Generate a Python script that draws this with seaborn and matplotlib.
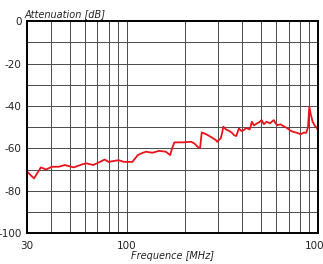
import numpy as np
import pandas as pd
import seaborn as sns
import matplotlib.pyplot as plt
from matplotlib.ticker import FixedLocator, NullFormatter

# Attenuation curve
freq_mhz = [30, 32.6, 35.4, 37.7, 40.4, 43.8, 47.3, 52.6, 58.6, 61.3, 66.5,
            72.1, 76.4, 80, 90.3, 96.3, 98.4, 106.6, 113.8, 120.9, 125.9,
            135.6, 147, 159.4, 168.2, 172, 176.9, 195.7, 216.3, 225, 236,
            240.9, 246, 258.6, 274.5, 291.5, 296, 309, 314, 319, 330, 341,
            352, 363, 373, 385, 396, 408, 420, 438, 444, 450, 462, 477, 490,
            506, 520, 537, 560, 586, 597, 609, 635, 666, 690, 716, 745, 776,
            810, 840, 866, 885, 899, 915, 936, 960, 980, 1000]
atten_db = [-71, -74.2, -69, -70, -68.7, -68.7, -67.9, -69, -67.5, -67.1,
            -67.9, -66.4, -65.3, -66.4, -65.6, -66.4, -66.4, -66.4, -63.2,
            -62.1, -61.6, -62.1, -61.2, -61.6, -63.2, -60, -57.2, -57.2,
            -56.9, -57.7, -59.6, -60, -52.5, -53.3, -54.6, -56.1, -56.9,
            -55.3, -53, -49.8, -51.2, -51.7, -52.5, -53.8, -54.2, -50.6,
            -51.8, -51.4, -50.4, -51.1, -49.5, -47.5, -49.2, -48.3, -47.8,
            -46.7, -48.6, -47.5, -48.2, -46.7, -48, -49.1, -48.7, -49.8,
            -50.5, -51.7, -52.3, -52.7, -53.4, -52.6, -52.7, -50, -40.4,
            -44, -47.5, -49.3, -50.1, -51.5]

y_ticks = [0, -20, -40, -60, -80, -100]
x_ticks = [30, 100, 1000]
x_grid = [40, 50, 60, 70, 80, 90, 200, 300, 400, 500, 600, 700, 800, 900]

df = pd.DataFrame({"freq": freq_mhz, "atten": atten_db})

sns.set_style("white")
plt.rcParams['font.family'] = ['Liberation Sans Narrow', 'DejaVu Sans']

fig = plt.figure(figsize=(3.23, 2.64), dpi=100)
ax = fig.add_axes([0.084, 0.117, 0.901, 0.803])

sns.lineplot(data=df, x="freq", y="atten", ax=ax, color="#e8141b",
             linewidth=1.3, zorder=3)

ax.set_xscale("log")
ax.set_xlim(30, 1000)
ax.set_ylim(-100, 0)

# grid lines
ax.xaxis.set_major_locator(FixedLocator(x_ticks))
ax.xaxis.set_minor_locator(FixedLocator(x_grid))
ax.xaxis.set_minor_formatter(NullFormatter())
ax.set_xticklabels([str(t) for t in x_ticks])
ax.yaxis.set_major_locator(FixedLocator(y_ticks))
ax.yaxis.set_minor_locator(FixedLocator(list(range(-90, 0, 20))))
ax.set_yticklabels([str(t) for t in y_ticks])
ax.grid(True, which="both", color="#4a4a4a", linewidth=0.7)

ax.tick_params(axis="both", which="both", length=0, labelsize=7.5,
               colors="#222222")
ax.tick_params(axis="x", pad=6)
ax.tick_params(axis="y", pad=4)
for lbl in ax.get_xticklabels():
    lbl.set_clip_on(False)

for side in ["left", "bottom", "right", "top"]:
    ax.spines[side].set_color("black")
    ax.spines[side].set_linewidth(1.4)
    ax.spines[side].set_zorder(4)

ax.set_xlabel("Frequence [MHz]", fontsize=7, style="italic", labelpad=0,
              color="#222222")
ax.set_ylabel("")
fig.text(0.077, 0.947, "Attenuation [dB]", fontsize=7, style="italic",
         color="#222222", ha="left", va="center")

fig.savefig("out.png", dpi=100)
